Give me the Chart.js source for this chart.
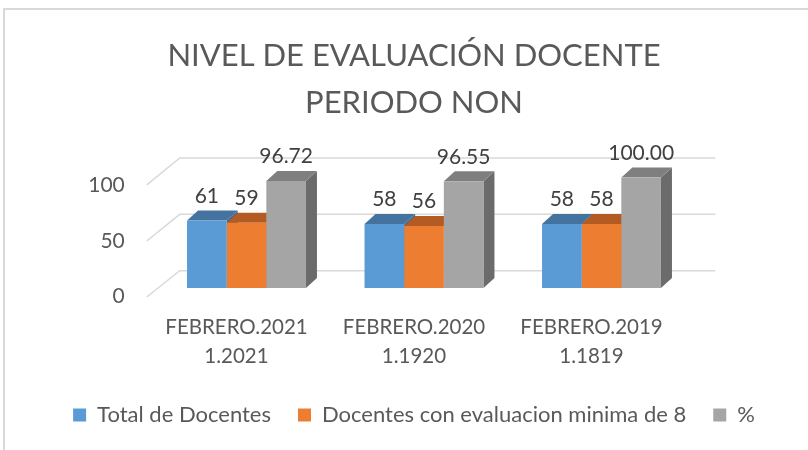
<!DOCTYPE html>
<html><head><meta charset="utf-8">
<script src="https://cdn.jsdelivr.net/npm/chart.js@4"></script>
<style>html,body{margin:0;padding:0;background:#fff;}canvas{display:block}</style>
</head><body>
<canvas id="c" width="808" height="450"></canvas>
<script>
const categories = [['FEBRERO.2021','1.2021'],['FEBRERO.2020','1.1920'],['FEBRERO.2019','1.1819']];
const seriesNames = ['Total de Docentes','Docentes con evaluacion minima de 8','%'];
const totalDocentes = [61, 58, 58];
const docentesMin8 = [59, 56, 58];
const porcentaje = [96.72, 96.55, 100.00];
const yTicks = [0, 50, 100];
const titleLines = ['NIVEL DE EVALUACIÓN DOCENTE', 'PERIODO NON'];

const FONT = 'Lato';
const TXT = '#595959';
const frontColors = ['#5B9BD5', '#ED7D31', '#A5A5A5'];
const topColors = ['#44739F', '#B35B22', '#7F7F7F'];
const sideColors = ['#3F6A93', '#A5541F', '#6B6B6B'];
const labelDecimals = [0, 0, 2];
const DEPTH = {dx: 11, dy: -10};
const BACK = {dx: 22, dy: -17.3, s: 1.02};
const FRONT = {dx: -11, dy: 9, s: 1.014};

const threeD = {
  id: 'threeD',
  beforeDraw(chart) {
    const ctx = chart.ctx;
    ctx.save();
    ctx.fillStyle = '#D9D9D9';
    ctx.fillRect(3, 8, 805, 2);
    ctx.fillRect(3, 8, 2, 442);
    ctx.restore();
  },
  beforeDatasetsDraw(chart) {
    const ctx = chart.ctx, area = chart.chartArea, ys = chart.scales.y;
    const y0 = ys.getPixelForValue(0);
    ctx.save();
    ctx.strokeStyle = '#D9D9D9';
    ctx.lineWidth = 1.5;
    yTicks.forEach(v => {
      const yb = ys.getPixelForValue(v);
      const yBack = y0 + BACK.dy - (y0 - yb) * BACK.s;
      const yFront = y0 + FRONT.dy - (y0 - yb) * FRONT.s;
      ctx.beginPath();
      ctx.moveTo(area.left + FRONT.dx, yFront);
      ctx.lineTo(area.left + BACK.dx, yBack);
      ctx.lineTo(area.right + BACK.dx + 3, yBack);
      ctx.stroke();
    });
    const n = chart.data.labels.length;
    for (let i = 0; i < n; i++) {
      chart.data.datasets.forEach((ds, d) => {
        const bar = chart.getDatasetMeta(d).data[i];
        const l = bar.x - bar.width / 2, r = bar.x + bar.width / 2, t = bar.y, b = bar.base;
        ctx.fillStyle = sideColors[d];
        ctx.beginPath();
        ctx.moveTo(r, t); ctx.lineTo(r + DEPTH.dx, t + DEPTH.dy);
        ctx.lineTo(r + DEPTH.dx, b + DEPTH.dy); ctx.lineTo(r, b); ctx.closePath(); ctx.fill();
        ctx.fillStyle = topColors[d];
        ctx.beginPath();
        ctx.moveTo(l, t); ctx.lineTo(r, t); ctx.lineTo(r + DEPTH.dx, t + DEPTH.dy);
        ctx.lineTo(l + DEPTH.dx, t + DEPTH.dy); ctx.closePath(); ctx.fill();
      });
    }
    ctx.restore();
  },
  afterDatasetsDraw(chart) {
    const ctx = chart.ctx;
    ctx.save();
    ctx.fillStyle = '#404040';
    ctx.font = '21px ' + FONT;
    ctx.textAlign = 'center';
    ctx.textBaseline = 'middle';
    chart.data.datasets.forEach((ds, d) => {
      chart.getDatasetMeta(d).data.forEach((bar, i) => {
        ctx.fillText(ds.data[i].toFixed(labelDecimals[d]), bar.x, bar.y - 24.5);
      });
    });
    ctx.restore();
  }
};

new Chart(document.getElementById('c'), {
  type: 'bar',
  data: {
    labels: categories,
    datasets: [
      {label: seriesNames[0], data: totalDocentes, backgroundColor: frontColors[0]},
      {label: seriesNames[1], data: docentesMin8, backgroundColor: frontColors[1]},
      {label: seriesNames[2], data: porcentaje, backgroundColor: frontColors[2]}
    ]
  },
  options: {
    responsive: false, animation: false, devicePixelRatio: 1,
    datasets: {bar: {categoryPercentage: 0.67, barPercentage: 1, borderWidth: 0}},
    layout: {padding: {left: 20, right: 0, top: 0, bottom: 14}},
    plugins: {
      title: {display: true, text: titleLines, color: TXT,
        font: {family: FONT, size: 31, weight: 'normal', lineHeight: 1.516},
        padding: {top: 32.5, bottom: 51}},
      legend: {position: 'bottom',
        labels: {boxWidth: 13, boxHeight: 13, padding: 27, color: TXT, font: {family: FONT, size: 22}}},
      tooltip: {enabled: false}
    },
    scales: {
      x: {grid: {display: false, drawTicks: false}, border: {display: false},
        ticks: {color: TXT, font: {family: FONT, size: 20.5, lineHeight: 1.415}, padding: 25, labelOffset: -10, maxRotation: 0, autoSkip: false},
        afterFit(s) { s.height = 89; }},
      y: {min: 0, max: 100,
        afterBuildTicks(s) { s.ticks = yTicks.map(v => ({value: v})); },
        grid: {display: false, drawTicks: false}, border: {display: false},
        ticks: {color: TXT, font: {family: FONT, size: 21}, padding: 33, labelOffset: 8},
        afterFit(s) { s.width = 137.75; }},
      yR: {position: 'right', grid: {display: false, drawTicks: false}, border: {display: false},
        ticks: {display: false}, afterFit(s) { s.width = 117.75; }}
    }
  },
  plugins: [threeD]
});
</script>
</body></html>
